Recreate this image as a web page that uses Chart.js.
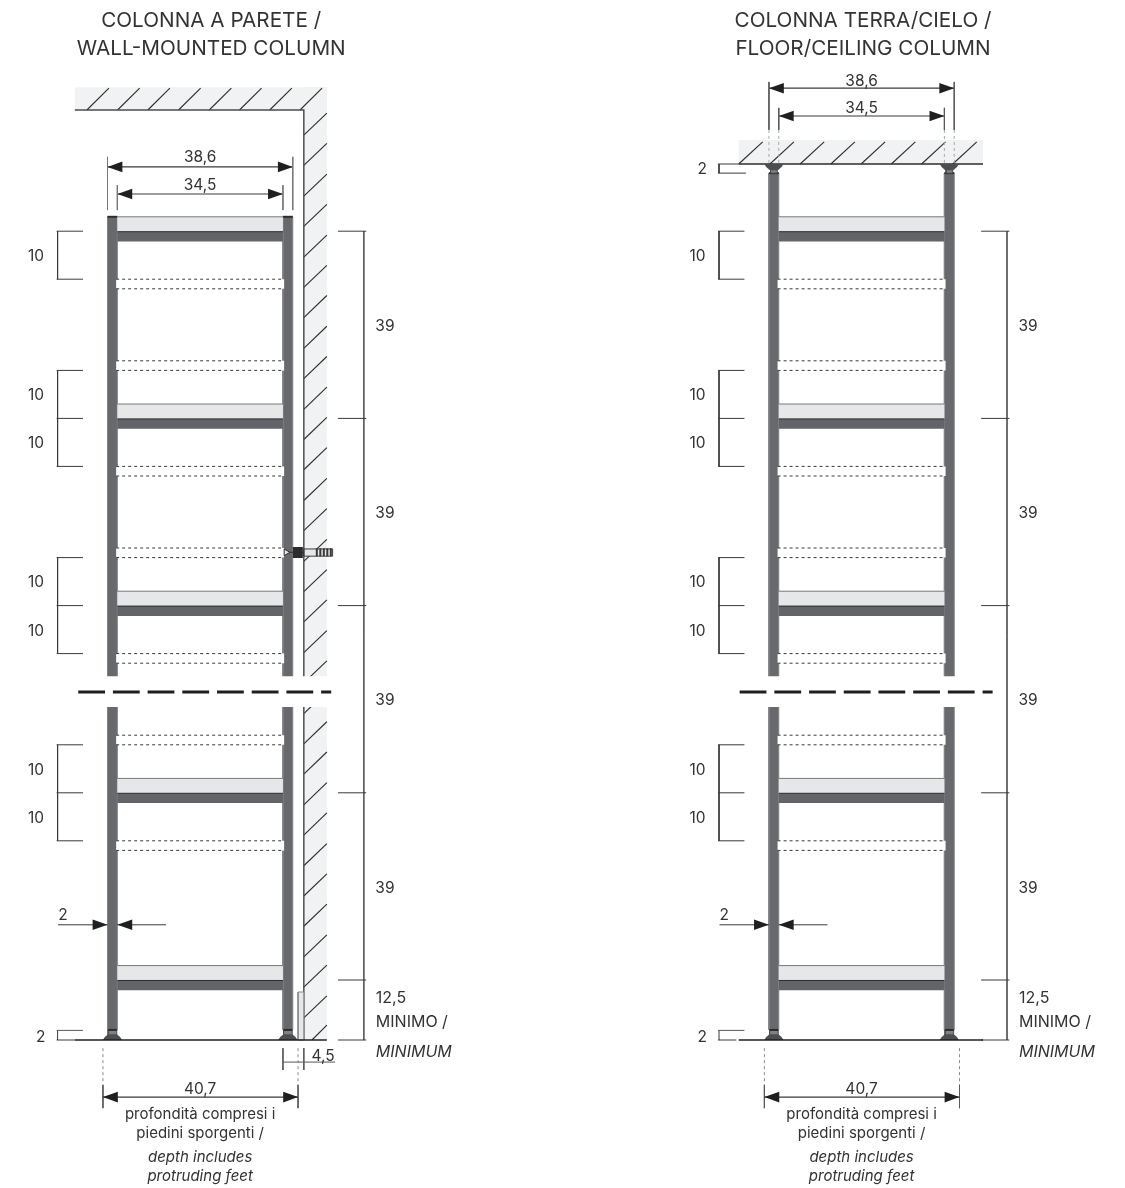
<!DOCTYPE html>
<html>
<head>
<meta charset="utf-8">
<script src="https://cdn.jsdelivr.net/npm/chart.js"></script>
<style>
  html, body { margin: 0; padding: 0; background: #fff; }
  canvas { display: block; }
</style>
</head>
<body>
<canvas id="drawing" width="1125" height="1188"></canvas>
<script>
// All values are centimetres on the sheet (floor = 0, left post = 0)
const columnShift = [0, 137.8];
const postTops = [171.5, 180.6];
const postBottom = 2.1;
const postEdges = [[0, 2.05], [36.55, 38.6]];
const footCentres = [1.03, 37.58];

const shelfLevels = [168.5, 129.5, 90.5, 51.5, 12.5];
const holeLevels = [[158.5, 156.5], [141.5, 139.5], [119.5, 117.5], [102.5, 100.5], [80.5, 78.5], [63.5, 61.5], [41.5, 39.5]];
const tenBrackets = [[168.5, 158.5], [139.5, 129.5, 119.5], [100.5, 90.5, 80.5], [61.5, 51.5, 41.5]];
const spanTicks = [168.5, 129.5, 90.5, 51.5, 12.5, 0];
const spanLineX = [53.4, 49.6];

const tenLabels = ['10', '10', '10', '10', '10', '10', '10'];
const tenLabelLevels = [163.5, 134.6, 124.6, 95.6, 85.4, 56.5, 46.5];
const spanLabels = ['39', '39', '39', '39'];
const spanLabelLevels = [149, 110, 71, 31.9];

const topHatchStarts = [-4.3, 2.1, 8.4, 14.8, 21.2, 27.5, 33.8, 40.1];
const ceilingHatchStarts = [-6.3, 0.2, 6.5, 12.9, 19.2, 25.5, 31.8, 38.3];
const wallHatchStarts = [188.5, 182.2, 175.8, 169.5, 163.1, 156.8, 150.5, 144.1, 137.8, 131.4, 125.1, 118.8, 112.4, 106.1, 99.7, 93.4, 87.1, 80.7, 74.4, 68.0, 61.7, 55.4, 49.0, 42.7, 36.3, 30.0, 23.7, 17.3, 11.0, 4.6];

const titles = [['COLONNA A PARETE /', 'WALL-MOUNTED COLUMN'], ['COLONNA TERRA/CIELO /', 'FLOOR/CEILING COLUMN']];
const titleCentres = [21.6, 19.6];
const widthLabels = ['38,6', '34,5'];
const widthLabelLevels = [[184.2, 178.3], [200, 194.4]];
const widthLevels = [[181.9, 176.25], [198.3, 192.5]];
const depthLabel = '40,7';
const noteLines = ['profondità compresi i', 'piedini sporgenti /', 'depth includes', 'protruding feet'];
const noteLevels = [-15.2, -19.2, -24.2, -28.1];
const minimumLines = ['12,5', 'MINIMO /', 'MINIMUM'];
const minimumLevels = [9, 4, -2.3];

const INK = '#3a3a3c';
const datasets = [];
const texts = [];

function line(points, color, width, dash) {
    datasets.push({
        data: points.map(p => ({ x: p[0], y: p[1] })),
        showLine: true,
        borderColor: color || INK,
        borderWidth: width || 1,
        borderDash: dash || [],
        pointRadius: 0,
        fill: false,
        tension: 0,
        order: -datasets.length
    });
}

function poly(points, color, stroke, width) {
    const closed = points.concat([points[0]]);
    datasets.push({
        data: closed.map(p => ({ x: p[0], y: p[1] })),
        showLine: true,
        backgroundColor: color,
        borderColor: stroke || 'rgba(0,0,0,0)',
        borderWidth: stroke ? (width || 1) : 0,
        pointRadius: 0,
        fill: 'shape',
        tension: 0,
        order: -datasets.length
    });
}

function rect(x0, x1, y0, y1, color, stroke, width) {
    poly([[x0, y0], [x1, y0], [x1, y1], [x0, y1]], color, stroke, width);
}

function arrow(tip, y, dir) {
    poly([[tip, y], [tip + dir * 3.1, y + 1.1], [tip + dir * 3.1, y - 1.1]], '#1f1f21');
}

function text(str, x, y, size, align, italic) {
    texts.push({ str, x, y, size: size || 15.5, align: align || 'center', italic: !!italic });
}

function widthDim(s, a, b, y) {
    line([[s + a, y], [s + b, y]], INK, 1.2);
    arrow(s + a, y, 1);
    arrow(s + b, y, -1);
}

function drawWall() {
    rect(-6.8, 45.7, 193.75, 198.5, '#f1f2f3');
    rect(40.9, 45.7, 0, 198.5, '#f1f2f3');
    topHatchStarts.forEach(x => line([[x, 193.75], [x + 4.6, 198.3]], '#2c2c2e', 1.1));
    wallHatchStarts.forEach(y => line([[40.9, y], [45.7, y + 4.6]], '#2c2c2e', 1.1));
    line([[42.6, 0], [45.7, 3.1]], '#2c2c2e', 1.1);
    line([[-6.8, 193.75], [40.9, 193.75], [40.9, 0]], '#4d4e50', 1.5);
    rect(39.7, 40.9, 0, 10, '#e6e7e8', '#8a8b8d', 1);
}

function drawColumn(c) {
    const s = columnShift[c];
    const sx = spanLineX[c];

    // posts and feet
    postEdges.forEach(e => rect(s + e[0], s + e[1], postBottom, postTops[c], '#68696c', '#808184', 1));
    postEdges.forEach(e => line([[s + e[0], postTops[c]], [s + e[1], postTops[c]]], '#2c2c2e', 2));
    footCentres.forEach(f => {
        rect(s + f - 0.9, s + f + 0.9, 0.8, postBottom, '#808184', '#4d4e50', 1);
        line([[s + f - 0.9, postBottom], [s + f + 0.9, postBottom]], '#2c2c2e', 2);
        poly([[s + f - 2, 0], [s + f - 1.6, 0.6], [s + f - 0.9, 1.2], [s + f + 0.9, 1.2], [s + f + 1.6, 0.6], [s + f + 2, 0]], '#4d4e50');
    });

    // shelves
    shelfLevels.forEach(y => {
        rect(s + 2.05, s + 36.55, y - 0.1, y + 3, '#e6e7e8');
        line([[s + 2.05, y + 3], [s + 36.55, y + 3]], '#77787a', 1);
        rect(s + 2.05, s + 36.55, y - 2.15, y - 0.1, '#636467');
        line([[s + 2.05, y - 0.1], [s + 36.55, y - 0.1]], '#2c2c2e', 1);
    });

    // hole lines
    holeLevels.forEach(h => {
        rect(s + 1.8, s + 36.8, h[1], h[0], '#ffffff');
        h.forEach(y => line([[s + 1.8, y], [s + 36.8, y]], '#3a3a3c', 1, [3, 3]));
    });

    // left brackets
    tenBrackets.forEach(levels => {
        line([[s - 10.4, levels[0]], [s - 10.4, levels[levels.length - 1]]], INK, 1);
        levels.forEach(y => line([[s - 10.6, y], [s - 5.1, y]], INK, 1));
    });
    tenLabels.forEach((t, i) => text(t, s - 14.9, tenLabelLevels[i]));

    // span dimension on the right
    line([[s + sx, 168.5], [s + sx, 0]], '#58595b', 1);
    spanTicks.forEach(y => line([[s + sx - 5.4, y], [s + sx + 0.5, y]], INK, 1));
    spanLabels.forEach((t, i) => text(t, s + sx + 4.4, spanLabelLevels[i]));
    minimumLines.forEach((t, i) => text(t, s + sx + 2.5, minimumLevels[i], 16, 'left', i === 2));

    // post thickness
    line([[s - 10.3, 24], [s, 24]], INK, 1);
    arrow(s, 24, -1);
    line([[s + 2.05, 24], [s + 12.2, 24]], INK, 1);
    arrow(s + 2.05, 24, 1);
    text('2', s - 9.3, 26.2);

    // floor bracket
    line([[s - 10.4, 0], [s - 10.4, 2]], INK, 1);
    line([[s - 10.6, 2], [s - 5.1, 2]], '#58595b', 1);
    line([[s - 10.6, 0], [s - 6.8, 0]], INK, 1);
    text('2', s - 13.9, 0.8);

    // depth dimension below
    [-0.95, 39.7].forEach(x => {
        line([[s + x, -1.7], [s + x, -9.4]], '#8a8b8d', 1, [3, 3]);
        line([[s + x, -9.4], [s + x, -14.2]], '#58595b', 1);
    });
    widthDim(s, -0.95, 39.7, -11.9);
    text(depthLabel, s + 19.3, -10);
    noteLines.forEach((t, i) => text(t, s + 19.3, noteLevels[i], 15, 'center', i > 1));

    // titles
    titles[c].forEach((t, i) => text(t, s + titleCentres[c], i === 0 ? 212.7 : 206.9, 20.7));
    widthLabels.forEach((t, i) => text(t, s + 19.3, widthLabelLevels[c][i]));
}

function drawBreak(c, from, to) {
    const s = columnShift[c];
    rect(s - 9, s + 48, 69.4, 75.8, '#ffffff');
    line([[s + from, 72.5], [s + to, 72.5]], '#1f1f21', 3, [26.8, 7.9]);
}

// left column: wall-mounted
drawWall();
drawColumn(0);
line([[36.8, 101.6], [46, 101.6]], '#3a3a3c', 1);
poly([[36.8, 102.3], [38, 101.6], [36.8, 100.9]], '#e6e7e8', '#2c2c2e', 1);
rect(38.6, 40.7, 100.4, 102.7, '#2c2c2e');
rect(40.9, 46.9, 100.8, 102.3, '#e6e7e8', '#3a3a3c', 1);
line([[43.4, 101.6], [46.9, 101.6]], '#3a3a3c', 8, [2, 1.5]);
drawBreak(0, -6.1, 46.6);
line([[-6.8, 0], [45.7, 0]], '#1f1f21', 1.5);
widthDim(0, 0, 38.6, widthLevels[0][0]);
widthDim(0, 2.05, 36.55, widthLevels[0][1]);
[0, 38.6].forEach(x => line([[x, 184], [x, 172.9]], '#77787a', 1));
[2.05, 36.55].forEach(x => line([[x, 178.1], [x, 172.9]], '#77787a', 1));
line([[36.55, -1.7], [36.55, -6.25]], '#58595b', 1);
line([[40.9, -1.7], [40.9, -6.25]], '#58595b', 1);
line([[36.55, -4.6], [47.4, -4.6]], '#58595b', 1);
text('4,5', 44.9, -3.1);

// right column: floor/ceiling
const r = columnShift[1];
rect(r - 6.3, r + 44.6, 182.5, 187.5, '#f1f2f3');
ceilingHatchStarts.forEach(x => line([[r + x, 182.5], [r + x + 5, 187.1]], '#2c2c2e', 1.1));
line([[r - 6.3, 182.5], [r + 44.6, 182.5]], '#2c2c2e', 1.5);
drawColumn(1);
footCentres.forEach(f => {
    rect(r + f - 0.7, r + f + 0.7, 180.6, 181.3, '#808184', '#4d4e50', 1);
    poly([[r + f - 2, 182.5], [r + f - 1.6, 181.9], [r + f - 0.9, 181.25], [r + f + 0.9, 181.25], [r + f + 1.6, 181.9], [r + f + 2, 182.5]], '#4d4e50');
});
drawBreak(1, -6.1, 46.6);
line([[r - 6.3, 0], [r + 44.6, 0]], '#1f1f21', 1.5);
widthDim(r, 0, 38.6, widthLevels[1][0]);
widthDim(r, 2.05, 36.55, widthLevels[1][1]);
[0, 38.6].forEach(x => {
    line([[r + x, 199.6], [r + x, 189.6]], '#58595b', 1);
    line([[r + x, 189.6], [r + x, 182.5]], '#a7a9ac', 1, [3, 3]);
});
[2.05, 36.55].forEach(x => {
    line([[r + x, 194.2], [r + x, 189.6]], '#58595b', 1);
    line([[r + x, 189.6], [r + x, 182.5]], '#a7a9ac', 1, [3, 3]);
});
line([[r - 10.6, 182.5], [r - 6.3, 182.5]], INK, 1);
line([[r - 10.4, 182.5], [r - 10.4, 180.6]], INK, 1);
line([[r - 10.6, 180.6], [r - 4.8, 180.6]], INK, 1);
text('2', r - 13.9, 181.7);

const textPlugin = {
    id: 'sheetText',
    afterDatasetsDraw(chart) {
        const c = chart.ctx;
        c.save();
        c.fillStyle = '#333335';
        c.textBaseline = 'middle';
        texts.forEach(t => {
            c.font = (t.italic ? 'italic ' : '') + t.size + 'px Inter, "Liberation Sans", sans-serif';
            c.textAlign = t.align;
            c.fillText(t.str, chart.scales.x.getPixelForValue(t.x), chart.scales.y.getPixelForValue(t.y) + 1.5);
        });
        c.restore();
    }
};

new Chart(document.getElementById('drawing').getContext('2d'), {
    type: 'scatter',
    data: { datasets: datasets },
    options: {
        responsive: false,
        animation: false,
        clip: false,
        layout: { padding: 0 },
        plugins: { legend: { display: false }, tooltip: { enabled: false } },
        scales: {
            x: { type: 'linear', display: false, min: -22.396, max: 211.979 },
            y: { type: 'linear', display: false, min: -30.833, max: 216.667 }
        }
    },
    plugins: [textPlugin]
});
</script>
</body>
</html>
